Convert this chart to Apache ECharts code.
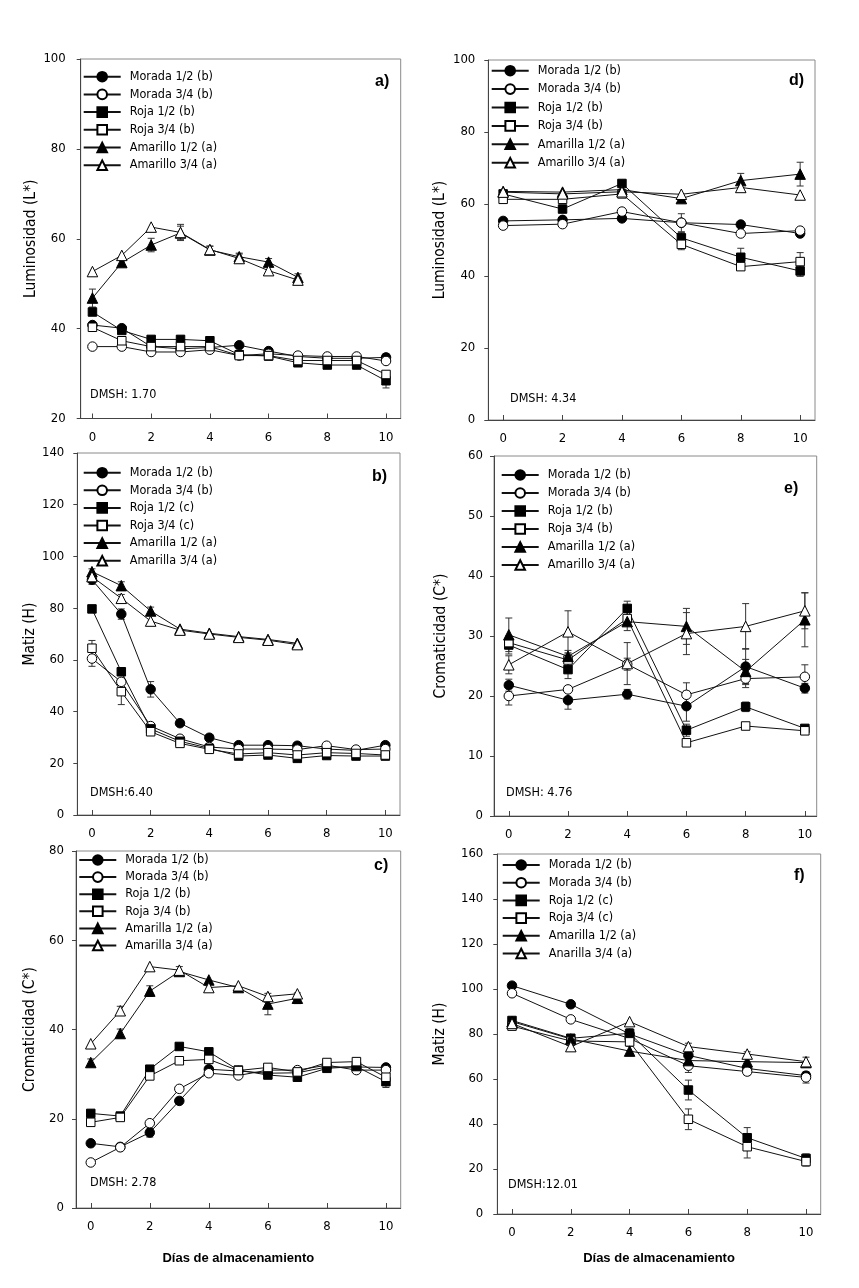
<!DOCTYPE html>
<html><head><meta charset="utf-8">
<script src="https://cdn.jsdelivr.net/npm/echarts@6/dist/echarts.min.js"></script>
<style>html,body{margin:0;padding:0;background:#fff}#c{width:859px;height:1288px}</style>
</head><body><div id="c"></div>
<script>
// ---------- data ----------
const xTicks = [0, 2, 4, 6, 8, 10];
const daysAll = [0, 1, 2, 3, 4, 5, 6, 7, 8, 9, 10];
const daysAm = [0, 1, 2, 3, 4, 5, 6, 7];
const daysEven = [0, 2, 4, 6, 8, 10];

// a) Luminosidad
const aNames = ['Morada 1/2 (b)', 'Morada 3/4 (b)', 'Roja 1/2 (b)', 'Roja 3/4 (b)', 'Amarillo 1/2 (a)', 'Amarillo 3/4 (a)'];
const aM12 = [40.8, 40.1, 36.0, 35.5, 35.8, 36.3, 35.0, 33.8, 33.4, 33.4, 33.6];
const aM34 = [36.0, 36.0, 34.8, 34.8, 35.3, 34.0, 34.4, 34.0, 33.8, 33.8, 32.8];
const aR12 = [43.7, 39.6, 37.6, 37.6, 37.3, 34.2, 33.9, 32.4, 31.9, 31.9, 28.4];
const aR34 = [40.3, 37.3, 36.0, 36.0, 36.0, 34.0, 34.0, 32.9, 32.9, 32.9, 29.8];
const aA12 = [46.8, 54.7, 58.6, 61.3, 57.5, 56.0, 54.8, 51.4];
const aA34 = [52.7, 56.3, 62.6, 61.4, 57.6, 55.6, 52.9, 50.8];
const aM12e = [0, 0, 0, 0, 0, 0, 0.6, 0, 0, 0, 0.8];
const aM34e = [0, 0, 0, 0, 0, 0, 0, 0, 0, 0, 0];
const aR12e = [0, 0, 0, 0, 0, 0, 0, 0, 0, 0, 1.6];
const aR34e = [0, 0, 0, 0, 0, 0, 0, 0, 0, 0, 0];
const aA12e = [2.0, 0.6, 1.5, 1.5, 0.8, 0.8, 0.8, 0.8];
const aA34e = [0, 0, 0, 1.8, 0.8, 1.0, 1.0, 0.5];

// b) Matiz
const bNames = ['Morada 1/2 (b)', 'Morada 3/4 (b)', 'Roja 1/2 (c)', 'Roja 3/4 (c)', 'Amarilla 1/2 (a)', 'Amarilla 3/4 (a)'];
const bM12 = [91.0, 77.7, 48.6, 35.5, 29.9, 27.0, 27.0, 26.8, 25.5, 25.0, 27.0];
const bM34 = [60.5, 51.5, 34.4, 29.5, 26.3, 25.5, 25.5, 25.3, 26.8, 25.3, 25.5];
const bR12 = [79.7, 55.4, 33.3, 28.5, 25.8, 22.8, 23.2, 21.9, 23.0, 22.8, 22.8];
const bR34 = [64.5, 47.7, 32.2, 27.7, 25.4, 23.6, 24.1, 23.2, 24.1, 23.8, 23.2];
const bA12 = [94.1, 88.7, 78.9, 71.9, 70.3, 69.0, 67.9, 66.4];
const bA34 = [92.2, 83.8, 75.0, 71.5, 70.0, 68.7, 67.6, 65.9];
const bM12e = [0, 2.0, 3.0, 0, 0, 0, 0, 0, 0, 0, 0];
const bM34e = [3.0, 0, 0, 0, 0, 0, 0, 0, 0, 0, 0];
const bR12e = [0, 0, 0, 0, 0, 0, 0, 0, 0, 0, 0];
const bR34e = [3.0, 5.0, 0, 0, 0, 0, 0, 0, 0, 0, 0];
const bA12e = [0, 1.5, 1.5, 0, 0, 0, 0, 0];
const bA34e = [3.0, 1.5, 0, 0, 0, 0, 0, 0];

// c) Cromaticidad
const cNames = ['Morada 1/2 (b)', 'Morada 3/4 (b)', 'Roja 1/2 (b)', 'Roja 3/4 (b)', 'Amarilla 1/2 (a)', 'Amarilla 3/4 (a)'];
const cM12 = [14.5, 13.7, 16.9, 24.0, 31.1, 30.7, 30.2, 30.3, 31.6, 31.6, 31.5];
const cM34 = [10.2, 13.6, 19.0, 26.7, 30.2, 29.7, 30.9, 30.9, 32.0, 30.9, 30.9];
const cR12 = [21.2, 20.6, 31.1, 36.2, 35.0, 30.9, 29.8, 29.3, 31.3, 31.7, 28.3];
const cR34 = [19.2, 20.3, 29.6, 33.0, 33.3, 30.8, 31.5, 30.5, 32.6, 32.8, 29.3];
const cA12 = [32.6, 39.1, 48.6, 53.0, 51.1, 49.4, 45.7, 47.0];
const cA34 = [36.8, 44.2, 54.1, 53.3, 49.4, 49.8, 47.4, 48.0];
const cM12e = [0, 0, 1.0, 0, 0, 0, 0, 0, 0, 0, 0];
const cM34e = [0, 0, 0, 0, 0, 0, 0, 0, 0, 0, 0];
const cR12e = [0, 0, 0, 0, 0, 0, 0, 0, 0, 0, 1.3];
const cR34e = [0, 0, 0, 0, 0, 0, 0, 0, 0, 0, 0];
const cA12e = [0.8, 1.0, 1.2, 0, 0, 0, 2.4, 1.2];
const cA34e = [0, 1.0, 0, 0.8, 0, 0, 0, 0];

// d) Luminosidad
const dNames = ['Morada 1/2 (b)', 'Morada 3/4 (b)', 'Roja 1/2 (b)', 'Roja 3/4 (b)', 'Amarilla 1/2 (a)', 'Amarillo 3/4 (a)'];
const dM12 = [55.3, 55.6, 56.0, 54.8, 54.3, 51.8];
const dM34 = [54.0, 54.4, 57.9, 54.8, 51.8, 52.6];
const dR12 = [62.8, 58.6, 65.7, 50.6, 45.2, 41.4];
const dR34 = [61.3, 61.3, 62.8, 48.8, 42.6, 44.0];
const dA12 = [63.5, 63.3, 64.0, 61.5, 66.5, 68.3];
const dA34 = [63.3, 62.8, 63.4, 62.7, 64.6, 62.5];
const dM12e = [0, 0, 0, 0, 0, 0];
const dM34e = [0, 0, 0, 2.5, 0, 0];
const dR12e = [0, 0, 0, 1.5, 2.5, 1.5];
const dR34e = [0, 0, 0, 1.5, 0, 2.5];
const dA12e = [0, 0, 0, 0, 2.0, 3.3];
const dA34e = [0, 0, 0, 0, 0, 0];

// e) Cromaticidad
const eNames = ['Morada 1/2 (b)', 'Morada 3/4 (b)', 'Roja 1/2 (b)', 'Roja 3/4 (b)', 'Amarilla 1/2 (a)', 'Amarillo 3/4 (a)'];
const eM12 = [21.8, 19.3, 20.3, 18.3, 24.9, 21.3];
const eM34 = [20.0, 21.1, 25.3, 20.2, 22.9, 23.2];
const eR12 = [28.5, 24.4, 34.6, 14.3, 18.2, 14.6];
const eR34 = [28.9, 26.0, 32.9, 12.2, 15.0, 14.2];
const eA12 = [30.2, 26.6, 32.4, 31.6, 24.1, 32.7];
const eA34 = [25.2, 30.7, 25.4, 30.4, 31.6, 34.2];
const eM12e = [1.0, 1.5, 0.8, 2.5, 3.0, 0.8];
const eM34e = [1.5, 0.5, 1.0, 2.0, 1.5, 2.0];
const eR12e = [1.5, 1.5, 1.2, 1.0, 0.8, 0.5];
const eR34e = [1.0, 1.0, 1.0, 0.5, 0.5, 0.5];
const eA12e = [2.8, 1.0, 1.5, 3.0, 2.0, 4.5];
const eA34e = [1.5, 3.5, 3.5, 3.5, 3.8, 3.0];

// f) Matiz
const fNames = ['Morada 1/2 (b)', 'Morada 3/4 (b)', 'Roja 1/2 (c)', 'Roja 3/4 (c)', 'Amarilla 1/2 (a)', 'Anarilla 3/4 (a)'];
const fM12 = [101.5, 93.2, 80.0, 70.5, 64.7, 61.5];
const fM34 = [98.1, 86.5, 78.0, 65.9, 63.3, 60.7];
const fR12 = [86.0, 78.1, 80.3, 55.1, 33.9, 24.7];
const fR34 = [83.5, 76.9, 76.5, 42.1, 29.9, 23.3];
const fA12 = [85.5, 77.8, 72.4, 68.2, 67.7, 67.3];
const fA34 = [84.7, 74.4, 85.5, 74.4, 71.1, 67.7];
const fM12e = [0, 0, 0, 0, 0, 0];
const fM34e = [0, 0, 0, 3.0, 1.5, 2.5];
const fR12e = [0, 0, 2.0, 4.4, 4.5, 2.0];
const fR34e = [0, 0, 2.0, 4.6, 5.0, 2.0];
const fA12e = [0, 0, 0, 0, 0, 0];
const fA34e = [0, 0, 0, 1.5, 1.0, 2.0];

const xLabel = 'Días de almacenamiento';

// ---------- layout / styles ----------
const FONT = "'DejaVu Sans Condensed', 'DejaVu Sans', sans-serif";
const BOLDFONT = "'Liberation Sans', Arial, sans-serif";
const STY = [
  { symbol: 'circle', size: 9.5, fill: '#000' },
  { symbol: 'circle', size: 9.5, fill: '#fff' },
  { symbol: 'rect', size: 8.5, fill: '#000' },
  { symbol: 'rect', size: 8.5, fill: '#fff' },
  { symbol: 'triangle', size: 10.5, fill: '#000' },
  { symbol: 'triangle', size: 10.5, fill: '#fff' }
];

const panels = [
  { names: aNames, xs: [daysAll, daysAll, daysAll, daysAll, daysAm, daysAm],
    vals: [aM12, aM34, aR12, aR34, aA12, aA34], errs: [aM12e, aM34e, aR12e, aR34e, aA12e, aA34e],
    grid: { left: 80.7, top: 59, width: 320, height: 359.5 }, x: [-0.4, 10.5], y: [20, 100, 20],
    yName: 'Luminosidad (L*)', nameGap: 42, labMargin: 15, leg: [82.7, 69.2, 2.7],
    letter: 'a)', letterPos: [375, 74], dmsh: 'DMSH: 1.70', dmshPos: [90, 388] },
  { names: bNames, xs: [daysAll, daysAll, daysAll, daysAll, daysAm, daysAm],
    vals: [bM12, bM34, bR12, bR34, bA12, bA34], errs: [bM12e, bM34e, bR12e, bR34e, bA12e, bA34e],
    grid: { left: 77.3, top: 453, width: 322.7, height: 362 }, x: [-0.5, 10.5], y: [0, 140, 20],
    yName: 'Matiz (H)', nameGap: 39, labMargin: 13, leg: [82.7, 465.2, 2.6],
    letter: 'b)', letterPos: [372, 469], dmsh: 'DMSH:6.40', dmshPos: [90, 786] },
  { names: cNames, xs: [daysAll, daysAll, daysAll, daysAll, daysAm, daysAm],
    vals: [cM12, cM34, cR12, cR34, cA12, cA34], errs: [cM12e, cM34e, cR12e, cR34e, cA12e, cA34e],
    grid: { left: 76, top: 851, width: 324.7, height: 357 }, x: [-0.5, 10.5], y: [0, 80, 20],
    yName: 'Cromaticidad (C*)', nameGap: 38, labMargin: 12, leg: [78.3, 852.5, 2.1], xName: true, xNameGap: 43.5,
    letter: 'c)', letterPos: [374, 858], dmsh: 'DMSH: 2.78', dmshPos: [90, 1176] },
  { names: dNames, xs: [daysEven, daysEven, daysEven, daysEven, daysEven, daysEven],
    vals: [dM12, dM34, dR12, dR34, dA12, dA34], errs: [dM12e, dM34e, dR12e, dR34e, dA12e, dA34e],
    grid: { left: 488.3, top: 60, width: 326.7, height: 360 }, x: [-0.5, 10.5], y: [0, 100, 20],
    yName: 'Luminosidad (L*)', nameGap: 40, labMargin: 13, leg: [490.7, 63.2, 3.4],
    letter: 'd)', letterPos: [789, 73], dmsh: 'DMSH: 4.34', dmshPos: [510, 392] },
  { names: eNames, xs: [daysEven, daysEven, daysEven, daysEven, daysEven, daysEven],
    vals: [eM12, eM34, eR12, eR34, eA12, eA34], errs: [eM12e, eM34e, eR12e, eR34e, eA12e, eA34e],
    grid: { left: 494, top: 456, width: 322.7, height: 360 }, x: [-0.5, 10.4], y: [0, 60, 10],
    yName: 'Cromaticidad (C*)', nameGap: 45.5, labMargin: 11, leg: [500.7, 467.5, 3.0],
    letter: 'e)', letterPos: [784, 481], dmsh: 'DMSH: 4.76', dmshPos: [506, 786] },
  { names: fNames, xs: [daysEven, daysEven, daysEven, daysEven, daysEven, daysEven],
    vals: [fM12, fM34, fR12, fR34, fA12, fA34], errs: [fM12e, fM34e, fR12e, fR34e, fA12e, fA34e],
    grid: { left: 497.3, top: 854, width: 323.4, height: 360 }, x: [-0.5, 10.5], y: [0, 160, 20],
    yName: 'Matiz (H)', nameGap: 49, labMargin: 14, leg: [501.7, 857.5, 2.7], xName: true, xNameGap: 37.5,
    letter: 'f)', letterPos: [794, 868], dmsh: 'DMSH:12.01', dmshPos: [508, 1178] }
];

function renderErr(params, api) {
  const x = api.value(0), y = api.value(1), e = api.value(2);
  const t = api.coord([x, y + e]);
  const b = api.coord([x, y - e]);
  const hw = 3.5;
  const st = { stroke: '#333', lineWidth: 1 };
  return { type: 'group', children: [
    { type: 'line', shape: { x1: t[0], y1: t[1], x2: b[0], y2: b[1] }, style: st },
    { type: 'line', shape: { x1: t[0] - hw, y1: t[1], x2: t[0] + hw, y2: t[1] }, style: st },
    { type: 'line', shape: { x1: b[0] - hw, y1: b[1], x2: b[0] + hw, y2: b[1] }, style: st }
  ]};
}

const grids = [], xAxes = [], yAxes = [], series = [], legends = [], graphics = [];
panels.forEach((p, i) => {
  grids.push(Object.assign({ show: true, borderColor: '#8a8a8a', borderWidth: 1, containLabel: false }, p.grid));
  xAxes.push({
    gridIndex: i, type: 'value', min: p.x[0], max: p.x[1],
    axisLine: { onZero: false, lineStyle: { color: '#444', width: 1 } },
    axisTick: { inside: true, length: 5, customValues: xTicks, lineStyle: { color: '#444' } },
    axisLabel: { customValues: xTicks, margin: 12.5, fontSize: 13, color: '#000', fontFamily: FONT },
    splitLine: { show: false },
    name: p.xName ? xLabel : '', nameLocation: 'middle', nameGap: p.xNameGap || 30,
    nameTextStyle: { fontSize: 13, fontWeight: 'bold', color: '#000', fontFamily: BOLDFONT }
  });
  yAxes.push({
    gridIndex: i, type: 'value', min: p.y[0], max: p.y[1], interval: p.y[2],
    axisLine: { show: true, onZero: false, lineStyle: { color: '#444', width: 1 } },
    axisTick: { show: true, length: 4, lineStyle: { color: '#444' } },
    axisLabel: { margin: p.labMargin, fontSize: 13, color: '#000', fontFamily: FONT },
    splitLine: { show: false },
    name: p.yName, nameLocation: 'middle', nameGap: p.nameGap,
    nameTextStyle: { fontSize: 15.5, color: '#000', fontFamily: FONT }
  });
  p.names.forEach((nm, k) => {
    const s = STY[k];
    const xs = p.xs[k], vs = p.vals[k], es = p.errs[k];
    const errData = [];
    xs.forEach((x, j) => { if (es[j] > 0) errData.push([x, vs[j], es[j]]); });
    series.push({
      type: 'custom', name: 'err-' + i + '-' + k, xAxisIndex: i, yAxisIndex: i,
      renderItem: renderErr, data: errData, encode: { x: 0, y: 1 }, z: 1, silent: true
    });
    series.push({
      type: 'line', name: nm, xAxisIndex: i, yAxisIndex: i,
      data: xs.map((x, j) => [x, vs[j]]),
      symbol: s.symbol, symbolSize: s.size, showAllSymbol: true,
      lineStyle: { color: '#111', width: 1 },
      itemStyle: { color: s.fill, borderColor: '#000', borderWidth: 1 },
      z: 2 + k, animation: false
    });
  });
  legends.push({
    orient: 'vertical', left: p.leg[0], top: p.leg[1], itemGap: p.leg[2], padding: 0,
    itemWidth: 37, itemHeight: 12, data: p.names, selectedMode: false,
    textStyle: { fontFamily: FONT, fontSize: 12.5, lineHeight: 15, color: '#000', padding: [0, 0, 0, 4] }
  });
  graphics.push({ type: 'text', left: p.letterPos[0], top: p.letterPos[1],
    style: { text: p.letter, font: "bold 16px " + BOLDFONT, fill: '#000' } });
  graphics.push({ type: 'text', left: p.dmshPos[0], top: p.dmshPos[1],
    style: { text: p.dmsh, font: "12.5px " + FONT, fill: '#000' } });
});

const chart = echarts.init(document.getElementById('c'), null, { renderer: 'canvas' });
chart.setOption({
  animation: false,
  backgroundColor: '#fff',
  textStyle: { fontFamily: FONT },
  grid: grids, xAxis: xAxes, yAxis: yAxes, series: series, legend: legends,
  graphic: graphics
});
</script></body></html>
